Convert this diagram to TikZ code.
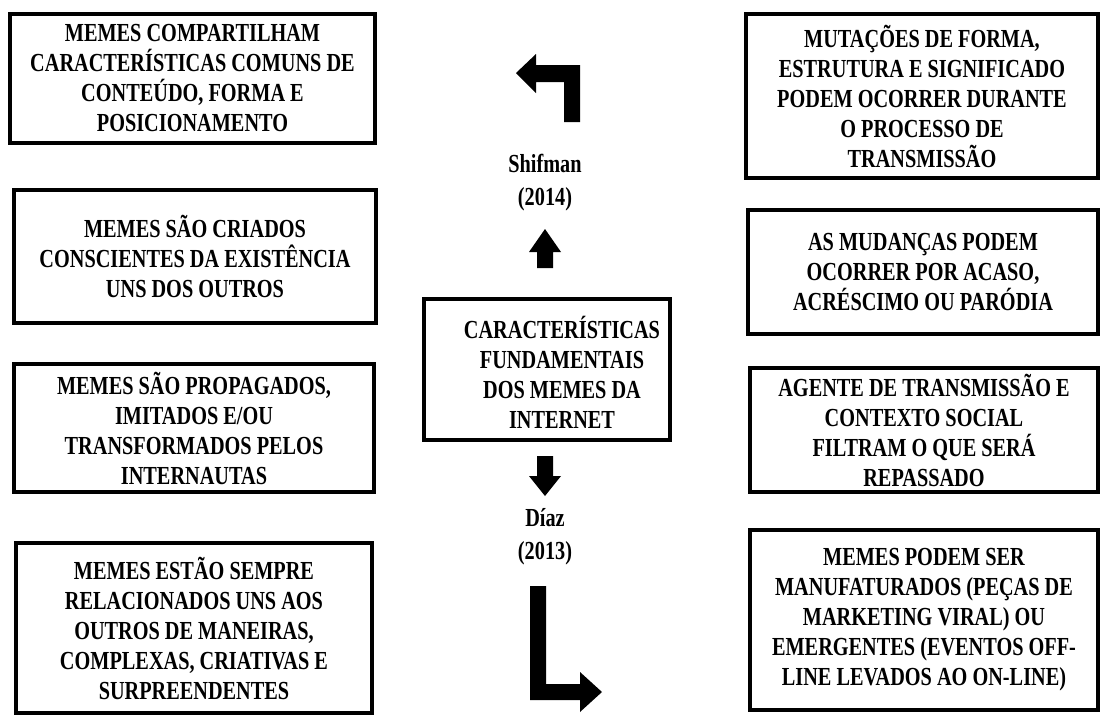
\documentclass[tikz,border=0pt]{standalone}
\usepackage{fontspec}
\setmainfont{Liberation Serif}[FakeStretch=0.78]

\begin{document}
\begin{tikzpicture}[x=1pt,y=-1pt,
		caixa/.style={draw,line width=3.5pt,align=center,inner sep=0pt,font=\fontsize{26}{30}\selectfont\bfseries},
		texto/.style={align=center,inner sep=0pt,font=\fontsize{26}{30}\selectfont\bfseries},
		autor/.style={align=center,font=\fontsize{26}{33}\selectfont\bfseries},
		seta/.style={fill=black}]
		\useasboundingbox (0,0) rectangle (1101,724);
		\clip (0,0) rectangle (1101,724);
		% \draw[step=50,help lines] (0,0) grid (1101,724);
		\node[caixa,minimum width=365,minimum height=129] (e1) at (192.5,78.5){MEMES COMPARTILHAM\\CARACTERÍSTICAS COMUNS DE\\CONTEÚDO, FORMA E\\POSICIONAMENTO};
		\node[caixa,minimum width=362,minimum height=133] (e2) at (195,256.5){MEMES SÃO CRIADOS\\CONSCIENTES DA EXISTÊNCIA\\UNS DOS OUTROS};
		\node[caixa,minimum width=360,minimum height=128] (e3) at (194,428){MEMES SÃO PROPAGADOS,\\IMITADOS E/OU\\TRANSFORMADOS PELOS\\INTERNAUTAS};
		\node[caixa,minimum width=356,minimum height=170] (e4) at (194,628){MEMES ESTÃO SEMPRE\\RELACIONADOS UNS AOS\\OUTROS DE MANEIRAS,\\COMPLEXAS, CRIATIVAS E\\SURPREENDENTES};
		\node[caixa,minimum width=246,minimum height=141] (c) at (547,369.5){};
		\node[texto] (ct) at (562,372){CARACTERÍSTICAS\\FUNDAMENTAIS\\DOS MEMES DA\\INTERNET};
		\node[caixa,minimum width=352,minimum height=164] (d1) at (922,96){MUTAÇÕES DE FORMA,\\ESTRUTURA E SIGNIFICADO\\PODEM OCORRER DURANTE\\O PROCESSO DE\\TRANSMISSÃO};
		\node[caixa,minimum width=350,minimum height=124] (d2) at (923,272){AS MUDANÇAS PODEM\\OCORRER POR ACASO,\\ACRÉSCIMO OU PARÓDIA};
		\node[caixa,minimum width=348,minimum height=124] (d3) at (924,430){AGENTE DE TRANSMISSÃO E\\CONTEXTO SOCIAL\\FILTRAM O QUE SERÁ\\REPASSADO};
		\node[caixa,minimum width=348,minimum height=180] (d4) at (924,620){MEMES PODEM SER\\MANUFATURADOS (PEÇAS DE\\MARKETING VIRAL) OU\\EMERGENTES (EVENTOS OFF-\\LINE LEVADOS AO ON-LINE)};
		\node[autor] (a1) at (545,183){Shifman\\(2014)};
		\node[autor] (a2) at (545,537){Díaz\\(2013)};
		% setas
		\fill[seta] (537,268) -- (537,252) -- (529,252) -- (545,229) -- (561,252) -- (553,252) -- (553,268) -- cycle;
		\fill[seta] (537,456) -- (537,476) -- (529,476) -- (545,496) -- (561,476) -- (553,476) -- (553,456) -- cycle;
		\fill[seta] (580,122) -- (580,65) -- (536,65) -- (536,54) -- (516,73) -- (536,93) -- (536,82) -- (564,82) -- (564,122) -- cycle;
		\fill[seta] (530,586) -- (530,700) -- (580,700) -- (580,712) -- (602,692) -- (580,672) -- (580,684) -- (546,684) -- (546,586) -- cycle;
\end{tikzpicture}
\end{document}
